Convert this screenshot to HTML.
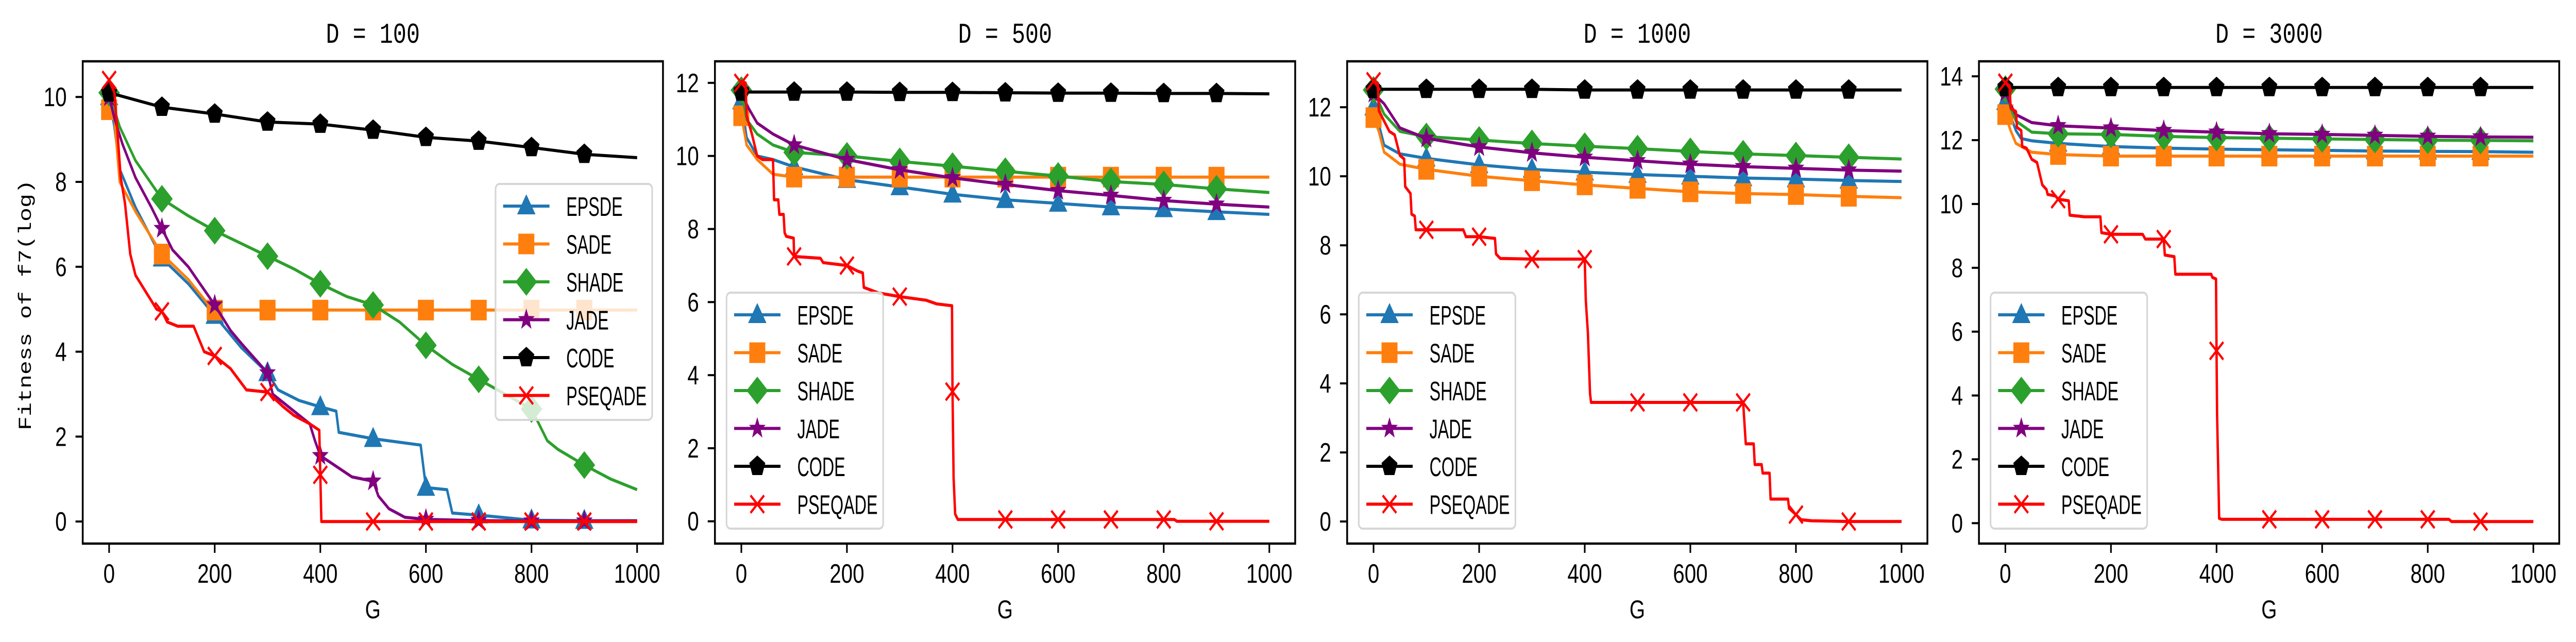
<!DOCTYPE html>
<html><head><meta charset="utf-8"><style>
html,body{margin:0;padding:0;background:#fff;width:100vw;height:100vh;overflow:hidden;}
svg{display:block;position:absolute;left:0;top:0;width:100vw;height:100vh;}
</style></head><body>
<svg id="fig" xmlns="http://www.w3.org/2000/svg" viewBox="0 0 6446 1246" preserveAspectRatio="none">
<rect x="0" y="0" width="6446" height="1246" fill="#fff"/>
<text x="0" y="0" transform="translate(66,592) rotate(-90)" text-anchor="middle" dominant-baseline="central" font-family="Liberation Mono, monospace" font-size="45">Fitness of f7(log)</text>
</svg>
<script>
// ---- data ----
const panelTitles = ["D = 100", "D = 500", "D = 1000", "D = 3000"];
const seriesNames = ["EPSDE", "SADE", "SHADE", "JADE", "CODE", "PSEQADE"];
const xTicks = [0, 200, 400, 600, 800, 1000];
const yTicksP1 = [0, 2, 4, 6, 8, 10];
const yTicksP2 = [0, 2, 4, 6, 8, 10, 12];
const yTicksP3 = [0, 2, 4, 6, 8, 10, 12];
const yTicksP4 = [0, 2, 4, 6, 8, 10, 12, 14];

// Panel 1 (D = 100): [G, value]
const p1_epsde = [[0,10.0],[10,9.3],[20,8.3],[50,7.4],[100,6.2],[150,5.6],[200,4.85],[250,4.1],[300,3.5],[320,3.1],[360,2.85],[400,2.7],[430,2.6],[435,2.1],[500,1.95],[590,1.8],[600,0.8],[640,0.75],[650,0.2],[700,0.15],[800,0.03],[900,0.02],[1000,0.02]];
const p1_sade = [[0,9.7],[10,9.5],[20,8.0],[50,7.3],[100,6.3],[150,5.7],[195,5.0],[200,4.98],[300,4.98],[400,4.98],[500,4.98],[600,4.98],[700,4.98],[800,4.98],[900,4.98],[1000,4.98]];
const p1_shade = [[0,10.1],[20,9.3],[50,8.5],[100,7.6],[150,7.2],[200,6.85],[250,6.55],[300,6.25],[350,5.95],[400,5.6],[450,5.3],[500,5.1],[550,4.7],[600,4.15],[650,3.7],[700,3.35],[750,3.0],[800,2.65],[830,1.9],[850,1.7],[900,1.33],[950,1.0],[1000,0.75]];
const p1_jade = [[0,10.0],[10,9.5],[25,8.9],[50,8.1],[80,7.4],[100,6.9],[120,6.4],[150,6.0],[200,5.1],[230,4.5],[250,4.2],[300,3.5],[310,3.0],[350,2.6],[380,2.3],[390,1.9],[400,1.55],[430,1.3],[460,1.05],[500,0.95],[510,0.6],[530,0.3],[560,0.1],[600,0.05],[700,0.02],[800,0.01],[900,0.01],[1000,0.01]];
const p1_code = [[0,10.1],[100,9.76],[200,9.6],[300,9.41],[400,9.36],[500,9.22],[600,9.05],[700,8.96],[800,8.81],[900,8.65],[1000,8.57]];
const p1_pseqade = [[0,10.4],[10,10.1],[15,9.3],[22,8.1],[30,7.5],[40,6.3],[50,5.8],[70,5.4],[90,5.0],[100,4.95],[110,4.7],[130,4.6],[160,4.6],[180,4.0],[200,3.9],[230,3.6],[260,3.1],[300,3.05],[330,2.7],[350,2.5],[380,2.3],[398,2.15],[400,1.1],[402,0.0],[500,0.0],[600,0.0],[700,0.0],[800,0.0],[900,0.0],[1000,0.0]];

// Panel 2 (D = 500)
const p2_epsde = [[0,11.5],[10,10.5],[30,10.0],[60,9.9],[100,9.7],[200,9.35],[300,9.15],[400,8.95],[500,8.8],[600,8.7],[700,8.6],[800,8.55],[900,8.47],[1000,8.4]];
const p2_sade = [[0,11.1],[10,10.3],[30,9.9],[60,9.5],[100,9.42],[200,9.42],[300,9.42],[400,9.42],[500,9.42],[600,9.42],[700,9.42],[800,9.42],[900,9.42],[1000,9.42]];
const p2_shade = [[0,11.8],[10,11.0],[30,10.6],[60,10.3],[100,10.1],[200,10.0],[300,9.85],[400,9.72],[500,9.58],[600,9.45],[700,9.3],[800,9.22],[900,9.1],[1000,9.0]];
const p2_jade = [[0,11.8],[10,11.4],[30,10.9],[60,10.6],[100,10.3],[200,9.9],[300,9.62],[400,9.4],[500,9.22],[600,9.05],[700,8.92],[800,8.78],[900,8.68],[1000,8.6]];
const p2_code = [[0,11.75],[100,11.75],[200,11.75],[300,11.74],[400,11.74],[500,11.73],[600,11.72],[700,11.72],[800,11.71],[900,11.71],[1000,11.7]];
const p2_pseqade = [[0,12.0],[8,12.0],[10,11.1],[20,10.6],[30,10.0],[40,9.9],[60,9.9],[62,8.8],[70,8.8],[72,8.4],[80,8.4],[82,7.9],[85,7.8],[99,7.75],[100,7.25],[150,7.2],[155,7.08],[200,7.0],[220,6.85],[230,6.8],[232,6.4],[260,6.25],[300,6.15],[350,6.05],[370,5.95],[399,5.9],[400,3.55],[402,1.2],[405,0.2],[410,0.05],[500,0.05],[600,0.05],[700,0.05],[800,0.05],[820,0.05],[825,0.0],[900,0.0],[1000,0.0]];

// Panel 3 (D = 1000)
const p3_epsde = [[0,12.0],[10,11.5],[20,10.9],[50,10.65],[100,10.52],[200,10.33],[300,10.2],[400,10.12],[500,10.05],[600,10.0],[700,9.95],[800,9.92],[900,9.88],[1000,9.85]];
const p3_sade = [[0,11.7],[10,11.3],[20,10.7],[50,10.35],[100,10.2],[200,10.0],[300,9.87],[400,9.75],[500,9.65],[600,9.55],[700,9.5],[800,9.47],[900,9.42],[1000,9.38]];
const p3_shade = [[0,12.5],[20,11.8],[50,11.3],[100,11.15],[200,11.05],[300,10.95],[400,10.87],[500,10.8],[600,10.72],[700,10.65],[800,10.6],[900,10.55],[1000,10.5]];
const p3_jade = [[0,12.4],[20,12.1],[50,11.4],[100,11.1],[200,10.85],[300,10.68],[400,10.55],[500,10.45],[600,10.35],[700,10.28],[800,10.23],[900,10.18],[1000,10.15]];
const p3_code = [[0,12.52],[100,12.52],[200,12.52],[300,12.52],[400,12.5],[500,12.5],[600,12.5],[700,12.5],[800,12.5],[900,12.5],[1000,12.5]];
const p3_pseqade = [[0,12.75],[8,12.7],[10,11.9],[20,11.6],[30,11.3],[40,11.2],[50,10.6],[58,10.5],[60,9.7],[70,9.5],[72,8.9],[78,8.85],[80,8.45],[100,8.45],[170,8.45],[175,8.25],[200,8.25],[230,8.2],[232,7.75],[240,7.62],[300,7.6],[400,7.6],[402,6.4],[406,5.45],[410,3.7],[412,3.45],[500,3.45],[600,3.45],[700,3.45],[705,2.25],[720,2.25],[722,1.65],[735,1.65],[737,1.4],[750,1.4],[752,0.65],[785,0.65],[787,0.38],[800,0.2],[810,0.05],[830,0.02],[900,0.0],[1000,0.0]];

// Panel 4 (D = 3000)
const p4_epsde = [[0,13.2],[20,12.3],[30,12.05],[50,11.98],[100,11.9],[200,11.8],[300,11.75],[400,11.72],[500,11.7],[600,11.68],[700,11.66],[800,11.65],[900,11.64],[1000,11.62]];
const p4_sade = [[0,12.8],[10,12.3],[20,11.9],[50,11.62],[100,11.55],[200,11.5],[300,11.5],[400,11.5],[500,11.5],[600,11.5],[700,11.5],[800,11.5],[900,11.5],[1000,11.5]];
const p4_shade = [[0,13.6],[10,13.0],[20,12.6],[50,12.25],[100,12.2],[200,12.18],[300,12.12],[400,12.08],[500,12.06],[600,12.04],[700,12.02],[800,12.0],[900,11.99],[1000,11.98]];
const p4_jade = [[0,13.5],[10,13.1],[20,12.8],[50,12.55],[100,12.45],[200,12.38],[300,12.3],[400,12.25],[500,12.2],[600,12.18],[700,12.15],[800,12.12],[900,12.1],[1000,12.09]];
const p4_code = [[0,13.65],[100,13.65],[200,13.65],[300,13.65],[400,13.65],[500,13.65],[600,13.65],[700,13.65],[800,13.65],[900,13.65],[1000,13.65]];
const p4_pseqade = [[0,13.8],[8,13.7],[10,13.0],[20,12.9],[22,12.4],[30,12.3],[32,11.8],[40,11.75],[50,11.4],[60,11.3],[70,10.6],[78,10.45],[80,10.3],[95,10.25],[100,10.15],[120,10.1],[122,9.65],[150,9.6],[180,9.6],[182,9.1],[200,9.05],[260,9.05],[265,8.9],[300,8.9],[302,8.4],[320,8.35],[322,7.8],[390,7.8],[392,7.7],[399,7.65],[400,5.4],[401,3.4],[405,0.15],[410,0.12],[500,0.12],[600,0.12],[700,0.12],[800,0.12],[840,0.12],[845,0.05],[900,0.05],[1000,0.05]];

const panelSeries = [
  [p1_epsde, p1_sade, p1_shade, p1_jade, p1_code, p1_pseqade],
  [p2_epsde, p2_sade, p2_shade, p2_jade, p2_code, p2_pseqade],
  [p3_epsde, p3_sade, p3_shade, p3_jade, p3_code, p3_pseqade],
  [p4_epsde, p4_sade, p4_shade, p4_jade, p4_code, p4_pseqade]
];
const panelYTicks = [yTicksP1, yTicksP2, yTicksP3, yTicksP4];
const panelYMin = [-0.52, -0.61, -0.64, -0.64];
const panelYMax = [10.84, 12.59, 13.33, 14.47];

// ---- style / layout ----
const NS = "http://www.w3.org/2000/svg";
const svg = document.getElementById("fig");
const colors = ["#1f77b4", "#ff7f0e", "#2ca02c", "#800080", "#000000", "#ff0000"];
const markerTypes = ["tri", "sq", "dia", "star", "pent", "x"];
const panelLeft = [207, 1789, 3371, 4952];
const PW = 1452, PT = 119, PB = 1055;
const XMIN = -50, XMAX = 1049;

function el(tag, attrs) {
  const e = document.createElementNS(NS, tag);
  for (const k in attrs) e.setAttribute(k, attrs[k]);
  return e;
}
function marker(type, cx, cy, color) {
  let m;
  if (type === "tri") {
    m = el("polygon", {points: `${cx},${cy-23} ${cx-23},${cy+16} ${cx+23},${cy+16}`, fill: color});
  } else if (type === "sq") {
    m = el("rect", {x: cx-20, y: cy-20, width: 40, height: 40, fill: color});
  } else if (type === "dia") {
    m = el("polygon", {points: `${cx},${cy-27} ${cx+27},${cy} ${cx},${cy+27} ${cx-27},${cy}`, fill: color});
  } else if (type === "star") {
    let p = [];
    for (let i = 0; i < 10; i++) {
      const r = i % 2 === 0 ? 22 : 9;
      const a = -Math.PI/2 + i*Math.PI/5;
      p.push((cx + r*Math.cos(a)).toFixed(1) + "," + (cy + r*Math.sin(a)).toFixed(1));
    }
    m = el("polygon", {points: p.join(" "), fill: color});
  } else if (type === "pent") {
    let p = [];
    for (let i = 0; i < 5; i++) {
      const a = -Math.PI/2 + i*2*Math.PI/5;
      p.push((cx + 21*Math.cos(a)).toFixed(1) + "," + (cy + 21*Math.sin(a)).toFixed(1));
    }
    m = el("polygon", {points: p.join(" "), fill: color});
  } else {
    m = el("path", {d: `M${cx-17},${cy-17}L${cx+17},${cy+17}M${cx-17},${cy+17}L${cx+17},${cy-17}`, stroke: color, "stroke-width": 5, fill: "none"});
  }
  return m;
}

for (let p = 0; p < 4; p++) {
  const L = panelLeft[p];
  const ymin = panelYMin[p], ymax = panelYMax[p];
  const sx = g => L + (g - XMIN) * PW / (XMAX - XMIN);
  const sy = v => PT + (ymax - v) * (PB - PT) / (ymax - ymin);

  const g = el("g", {});
  
  
  svg.appendChild(g);

  const defs = el("defs", {});
  const cp = el("clipPath", {id: "clip" + p});
  cp.appendChild(el("rect", {x: L, y: PT, width: PW, height: PB - PT}));
  defs.appendChild(cp);
  g.appendChild(defs);

  const t = el("text", {x: L + PW/2, y: 83, "text-anchor": "middle", "font-family": "Liberation Mono, monospace", "font-size": 56});
  t.textContent = panelTitles[p];
  
  
  g.appendChild(t);

  const sg = el("g", {"clip-path": `url(#clip${p})`});
  g.appendChild(sg);
  panelSeries[p].forEach((data, si) => {
    const pts = data.map(d => sx(d[0]).toFixed(1) + "," + sy(d[1]).toFixed(1)).join(" ");
    const line = el("polyline", {points: pts, fill: "none", stroke: colors[si], "stroke-width": 6, "stroke-linejoin": "round"});
    
    
    sg.appendChild(line);
    data.forEach(d => {
      if (d[0] % 100 === 0 && d[0] <= 900) {
        const m = marker(markerTypes[si], sx(d[0]), sy(d[1]), colors[si]);
        
        
        sg.appendChild(m);
      }
    });
  });

  const fr = el("rect", {x: L, y: PT, width: PW, height: PB - PT, fill: "none", stroke: "#000", "stroke-width": 4.5});
  
  
  g.appendChild(fr);

  xTicks.forEach(v => {
    const x = sx(v);
    g.appendChild(el("line", {x1: x, y1: PB, x2: x, y2: PB + 18, stroke: "#000", "stroke-width": 4}));
    const tl = el("text", {x: x, y: 1131, "text-anchor": "middle", "font-family": "Liberation Sans, sans-serif", "font-size": 52});
    tl.textContent = v;
    
    
    g.appendChild(tl);
  });
  panelYTicks[p].forEach(v => {
    const y = sy(v);
    g.appendChild(el("line", {x1: L - 18, y1: y, x2: L, y2: y, stroke: "#000", "stroke-width": 4}));
    const tl = el("text", {x: L - 40, y: y + 18, "text-anchor": "end", "font-family": "Liberation Sans, sans-serif", "font-size": 52});
    tl.textContent = v;
    
    
    g.appendChild(tl);
  });
  const xl = el("text", {x: L + PW/2, y: 1200, "text-anchor": "middle", "font-family": "Liberation Sans, sans-serif", "font-size": 50});
  xl.textContent = "G";
  
  
  g.appendChild(xl);

  const bx = p === 0 ? 1240 : L + 29;
  const by = p === 0 ? 357 : 568;
  const lg = el("g", {});
  
  
  g.appendChild(lg);
  lg.appendChild(el("rect", {x: bx, y: by, width: 392, height: 458, rx: 10, fill: "#fff", "fill-opacity": 0.8, stroke: "#d6d6d6", "stroke-width": 4}));
  seriesNames.forEach((name, si) => {
    const ey = by + 43 + si * 73.5;
    const ent = el("g", {});
    
    
    lg.appendChild(ent);
    ent.appendChild(el("line", {x1: bx + 19, y1: ey, x2: bx + 135, y2: ey, stroke: colors[si], "stroke-width": 6}));
    ent.appendChild(marker(markerTypes[si], bx + 77, ey, colors[si]));
    const tx = el("text", {x: 0, y: 0, transform: `translate(${bx + 177},${ey + 19}) scale(0.8,1)`, "font-family": "Liberation Sans, sans-serif", "font-size": 52});
    tx.textContent = name;
    ent.appendChild(tx);
  });
}
</script>
</body></html>
